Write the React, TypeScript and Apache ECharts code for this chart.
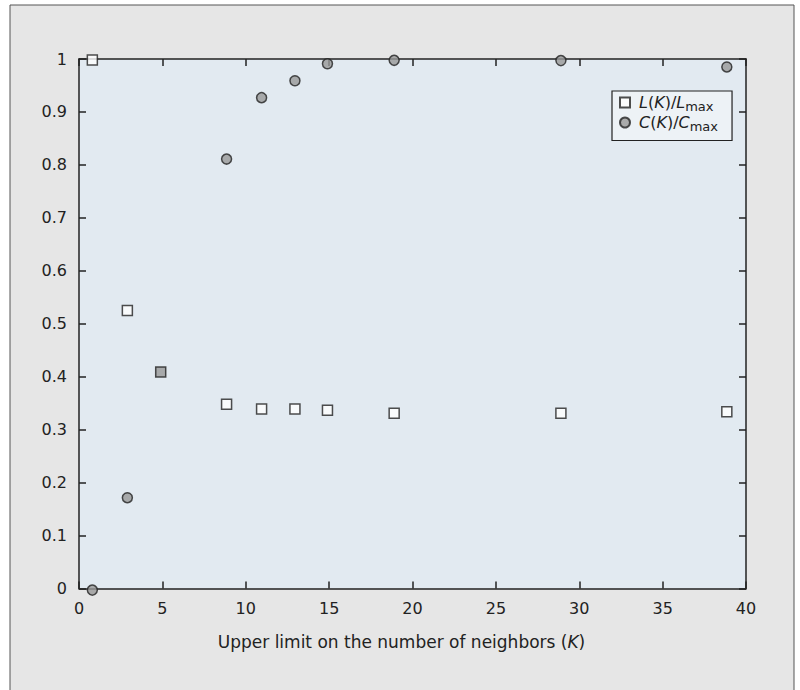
import React, { useEffect, useRef } from 'react';
import * as echarts from 'echarts';

// Upper limit on the number of neighbors (K) where each marker sits
const kValues = [0.8, 2.9, 4.9, 8.85, 10.95, 12.95, 14.9, 18.9, 28.9, 38.85];
// L(K)/Lmax (squares)
const lValues = [0.998, 0.525, 0.409, 0.348, 0.339, 0.339, 0.3365, 0.331, 0.331, 0.334];
// C(K)/Cmax (circles); null where the marker is hidden under the square
const cValues: (number | null)[] = [-0.003, 0.1715, null, 0.811, 0.927, 0.959, 0.991, 0.9975, 0.997, 0.985];
// the square drawn filled in gray (coincident values)
const grayK = 4.9;

const xMin = 0, xMax = 40, xStep = 5;
const yMin = 0, yMax = 1, yStep = 0.1;

const FONT = '"DejaVu Sans", "Noto Sans", sans-serif';
const DARK = '#222';

const mkLine = () => ({ show: true, onZero: false, lineStyle: { color: DARK, width: 1.5 } });
const mkTick = () => ({ show: true, inside: true, length: 7, lineStyle: { color: DARK, width: 1.5 } });

export default function App() {
  const ref = useRef<HTMLDivElement>(null);
  useEffect(() => {
    if (!ref.current) return;
    const chart = echarts.init(ref.current, null, { renderer: 'svg' });
    const labelStyle = { fontSize: 16, color: DARK, fontFamily: FONT };
    const rich = {
      i: { fontStyle: 'italic', fontSize: 16, lineHeight: 21, color: DARK, fontFamily: FONT },
      n: { fontSize: 16, lineHeight: 21, color: DARK, fontFamily: FONT },
      s: { fontSize: 13, lineHeight: 13, color: DARK, fontFamily: FONT, padding: [7, 0, 0, 0] },
    };
    chart.setOption({
      animation: false,
      textStyle: { fontFamily: FONT },
      graphic: {
        elements: [
          {
            type: 'rect', z: -100, silent: true,
            shape: { x: 10, y: 5, width: 784, height: 720 },
            style: { fill: '#e6e6e6', stroke: '#555', lineWidth: 1 },
          },
          {
            type: 'text', x: 401.5, y: 642,
            style: {
              text: '{n|Upper limit on the number of neighbors (}{i|K}{n|)}',
              textAlign: 'center', textVerticalAlign: 'middle',
              rich: {
                n: { fontSize: 17, fill: DARK, fontFamily: FONT },
                i: { fontSize: 17, fill: DARK, fontFamily: FONT, fontStyle: 'italic' },
              },
            },
          },
        ],
      },
      grid: {
        left: 79, top: 59, right: 54, bottom: 101.5,
        show: true, backgroundColor: '#e2eaf1', borderWidth: 0,
      },
      legend: {
        orient: 'vertical',
        left: 612, top: 91,
        padding: [1.5, 14, 8, 7],
        itemGap: 0,
        itemWidth: 10, itemHeight: 10,
        backgroundColor: '#edf2f6',
        borderColor: DARK, borderWidth: 1.2,
        data: ['L(K)/Lmax', 'C(K)/Cmax'],
        formatter: (name: string) =>
          name.startsWith('L')
            ? '{i|L}{n|(}{i|K}{n|)/}{i|L}{s|max}'
            : '{i|C}{n|(}{i|K}{n|)/}{i|C}{s|max}',
        textStyle: { rich, padding: [0, 0, 0, 4] },
      },
      xAxis: [
        {
          type: 'value', position: 'bottom', min: xMin, max: xMax, interval: xStep,
          axisLine: mkLine(), axisTick: mkTick(), splitLine: { show: false },
          axisLabel: { ...labelStyle, margin: 12 },
        },
        {
          type: 'value', position: 'top', min: xMin, max: xMax, interval: xStep,
          axisLine: mkLine(), axisTick: mkTick(), splitLine: { show: false }, axisLabel: { show: false },
        },
      ],
      yAxis: [
        {
          type: 'value', position: 'left', min: yMin, max: yMax, interval: yStep,
          axisLine: mkLine(), axisTick: mkTick(), splitLine: { show: false },
          axisLabel: { ...labelStyle, margin: 12 },
        },
        {
          type: 'value', position: 'right', min: yMin, max: yMax, interval: yStep,
          axisLine: mkLine(), axisTick: mkTick(), splitLine: { show: false }, axisLabel: { show: false },
        },
      ],
      series: [
        {
          name: 'L(K)/Lmax',
          type: 'scatter',
          clip: false,
          symbol: 'rect',
          symbolSize: 10,
          itemStyle: { color: '#ffffff', borderColor: DARK, borderWidth: 1.5 },
          data: kValues.map((k, i) =>
            k === grayK
              ? { value: [k, lValues[i]], itemStyle: { color: '#999999' } }
              : [k, lValues[i]]
          ),
        },
        {
          name: 'C(K)/Cmax',
          type: 'scatter',
          clip: false,
          symbol: 'circle',
          symbolSize: 10,
          itemStyle: { color: '#999999', borderColor: DARK, borderWidth: 1.5 },
          data: kValues
            .map((k, i) => [k, cValues[i]])
            .filter((p) => p[1] !== null),
        },
      ],
    });
    return () => chart.dispose();
  }, []);
  return (
    <div
      ref={ref}
      style={{ position: 'absolute', left: 0, top: 0, width: 800, height: 690 }}
    />
  );
}
